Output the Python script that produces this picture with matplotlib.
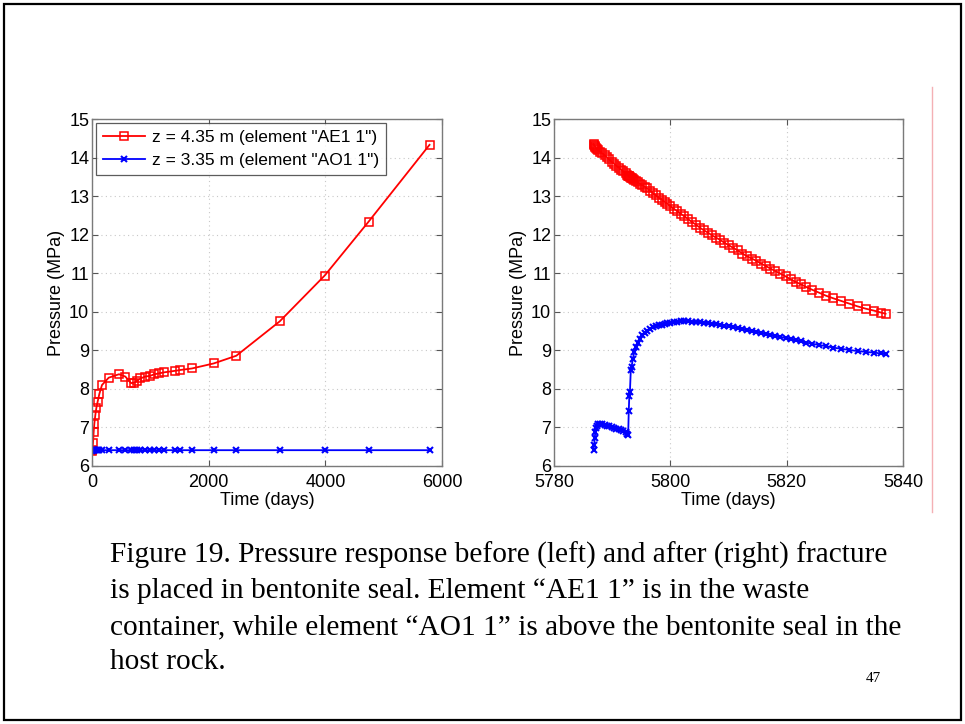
import numpy as np
import matplotlib.pyplot as plt
from matplotlib.patches import Rectangle
from matplotlib.lines import Line2D

plt.rcParams['font.family'] = ['Liberation Sans', 'DejaVu Sans']

# ---- left panel: before fracture ----
t_before = [0, 6, 17, 29, 40, 57, 74, 97, 126, 171, 286, 463, 571, 669, 726, 771,
            829, 914, 1000, 1069, 1143, 1240, 1429, 1514, 1714, 2086, 2474, 3217,
            3989, 4743, 5786]
p_ae1_before = [6.40, 6.42, 6.59, 6.89, 7.10, 7.32, 7.50, 7.67, 7.87, 8.10, 8.29, 8.38,
                8.32, 8.15, 8.16, 8.21, 8.27, 8.32, 8.34, 8.38, 8.40, 8.43, 8.47, 8.49,
                8.53, 8.66, 8.86, 9.75, 10.94, 12.34, 14.33]
p_ao1_before = [6.40, 6.41, 6.41, 6.41, 6.41, 6.41, 6.41, 6.41, 6.41, 6.41, 6.41, 6.41,
                6.41, 6.41, 6.41, 6.41, 6.41, 6.41, 6.41, 6.41, 6.41, 6.41, 6.41, 6.41,
                6.41, 6.41, 6.41, 6.41, 6.41, 6.41, 6.41]

# ---- right panel: after fracture ----
t_after = [5786.8, 5786.9, 5787.0, 5787.1, 5787.2, 5787.4, 5787.6, 5787.9, 5788.3, 5788.7,
           5789.1, 5789.5, 5789.9, 5790.3, 5790.7, 5791.1, 5791.5, 5791.9, 5792.3, 5792.6,
           5792.75, 5792.85, 5792.95, 5793.05, 5793.2, 5793.35, 5793.55, 5793.8, 5794.1, 5794.4,
           5794.8, 5795.2, 5795.6, 5796.0, 5796.5, 5797.0, 5797.5, 5798.0, 5798.5, 5799.0,
           5799.5, 5800.0, 5800.6, 5801.2, 5801.8, 5802.4, 5803.0, 5803.7, 5804.4, 5805.1,
           5805.8, 5806.5, 5807.2, 5807.9, 5808.6, 5809.3, 5810.0, 5810.8, 5811.6, 5812.4,
           5813.2, 5814.0, 5814.8, 5815.6, 5816.4, 5817.2, 5818.0, 5818.9, 5819.8, 5820.7,
           5821.6, 5822.5, 5823.4, 5824.4, 5825.5, 5826.7, 5828.0, 5829.4, 5830.8, 5832.2,
           5833.6, 5835.0, 5836.2, 5837.0]
p_ae1_after = [14.35, 14.33, 14.30, 14.28, 14.25, 14.22, 14.19, 14.15, 14.11, 14.06,
               14.01, 13.95, 13.89, 13.84, 13.79, 13.74, 13.69, 13.64, 13.59, 13.55,
               13.53, 13.52, 13.51, 13.50, 13.48, 13.46, 13.44, 13.42, 13.39, 13.36,
               13.32, 13.28, 13.24, 13.20, 13.14, 13.08, 13.02, 12.96, 12.91, 12.85,
               12.80, 12.74, 12.67, 12.61, 12.54, 12.48, 12.41, 12.33, 12.26, 12.18,
               12.11, 12.05, 11.98, 11.92, 11.86, 11.79, 11.73, 11.66, 11.59, 11.51,
               11.44, 11.38, 11.32, 11.25, 11.19, 11.12, 11.06, 10.99, 10.92, 10.84,
               10.77, 10.71, 10.64, 10.57, 10.50, 10.42, 10.35, 10.28, 10.21, 10.14,
               10.08, 10.03, 9.98, 9.95]
p_ao1_after = [6.42, 6.55, 6.72, 6.88, 6.98, 7.05, 7.08, 7.09, 7.08, 7.07,
               7.05, 7.03, 7.01, 6.99, 6.97, 6.95, 6.93, 6.91, 6.88, 6.84,
               6.80, 7.42, 7.82, 7.92, 8.48, 8.58, 8.78, 8.95, 9.08, 9.20,
               9.30, 9.40, 9.46, 9.51, 9.56, 9.60, 9.63, 9.65, 9.67, 9.69,
               9.71, 9.72, 9.73, 9.74, 9.75, 9.75, 9.75, 9.74, 9.73, 9.73,
               9.72, 9.71, 9.69, 9.68, 9.66, 9.64, 9.62, 9.60, 9.58, 9.55,
               9.53, 9.50, 9.48, 9.45, 9.43, 9.40, 9.37, 9.35, 9.32, 9.29,
               9.26, 9.23, 9.20, 9.17, 9.14, 9.11, 9.07, 9.04, 9.01, 8.98,
               8.96, 8.94, 8.92, 8.91]

labels = ['z = 4.35 m (element "AE1 1")', 'z = 3.35 m (element "AO1 1")']

caption = ["Figure 19. Pressure response before (left) and after (right) fracture",
           "is placed in bentonite seal. Element \u201cAE1 1\u201d is in the waste",
           "container, while element \u201cAO1 1\u201d is above the bentonite seal in the",
           "host rock."]
page_no = "47"

W, H = 965, 724
fig = plt.figure(figsize=(W / 100, H / 100), dpi=100)

ax1 = fig.add_axes([92 / W, (H - 466) / H, 350 / W, 347 / H])
ax2 = fig.add_axes([554 / W, (H - 466) / H, 349 / W, 347 / H])

red_kw = dict(color="red", marker="s", markersize=5.8, markerfacecolor="none",
              markeredgewidth=1.1, linewidth=1.3)
blue_kw = dict(color="blue", marker="x", markersize=5, markeredgewidth=1.5, linewidth=1.3)

ax1.plot(t_before, p_ae1_before, label=labels[0], **red_kw)
ax1.plot(t_before, p_ao1_before, label=labels[1], **blue_kw)
ax2.plot(t_after, p_ae1_after, **red_kw)
ax2.plot(t_after, p_ao1_after, **blue_kw)

for ax, xlim, xt in [(ax1, (0, 6000), [0, 2000, 4000, 6000]),
                     (ax2, (5780, 5840), [5780, 5800, 5820, 5840])]:
    ax.set_xlim(xlim)
    ax.set_ylim(6, 15)
    ax.set_xticks(xt)
    ax.set_yticks(range(6, 16))
    ax.grid(True, linestyle=(0, (1, 3)), color="#c8c8c8", linewidth=0.8)
    ax.tick_params(direction="in", top=True, right=True, labelsize=13, length=4,
                   color="#555555", pad=2)
    ax.tick_params(axis="x", pad=5.5)
    for s in ax.spines.values():
        s.set_color("#7a7a7a")
        s.set_linewidth(1.0)
    ax.set_xlabel("Time (days)", fontsize=13, labelpad=1)
    ax.set_ylabel("Pressure (MPa)", fontsize=13, labelpad=3)

leg = ax1.legend(loc="upper left", fontsize=12.5, frameon=True, fancybox=False,
                 borderaxespad=0.25, handlelength=2.4, borderpad=0.4, labelspacing=0.45,
                 handletextpad=0.4)
leg.get_frame().set_edgecolor("#333333")
leg.get_frame().set_linewidth(0.9)

# caption below the plots
line_y = [555, 591, 627, 662]
for txt, y in zip(caption, line_y):
    fig.text(110 / W, 1 - y / H, txt, fontsize=21.2, family="Liberation Serif",
             va="center", ha="left")
fig.text(873 / W, 1 - 678 / H, page_no, fontsize=11, family="Liberation Serif",
         va="center", ha="center")

# slide border and faint right margin line
fig.patches.append(Rectangle((4 / W, 4 / H), 957 / W, 716 / H, transform=fig.transFigure,
                             fill=False, edgecolor="black", linewidth=1.6))
fig.lines.append(Line2D([932 / W, 932 / W], [1 - 87 / H, 1 - 512 / H],
                        transform=fig.transFigure, color="#f4b0b4", linewidth=1.0))

fig.savefig("out.png", dpi=100)
plt.close(fig)
